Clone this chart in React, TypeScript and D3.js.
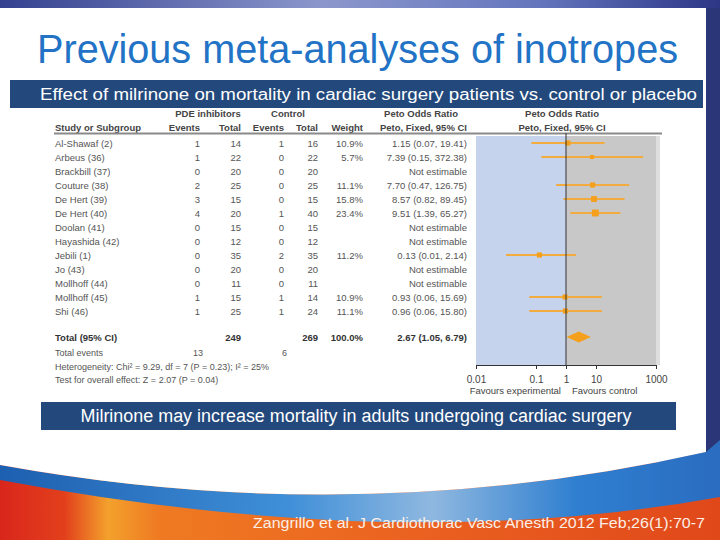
import { useRef, useEffect } from "react";
import * as d3 from "d3";

const studies = [
  "Al-Shawaf (2)",
  "Arbeus (36)",
  "Brackbill (37)",
  "Couture (38)",
  "De Hert (39)",
  "De Hert (40)",
  "Doolan (41)",
  "Hayashida (42)",
  "Jebili (1)",
  "Jo (43)",
  "Mollhoff (44)",
  "Mollhoff (45)",
  "Shi (46)",
];
const pdeEvents = [1, 1, 0, 2, 3, 4, 0, 0, 0, 0, 0, 1, 1];
const pdeTotal = [14, 22, 20, 25, 15, 20, 15, 12, 35, 20, 11, 15, 25];
const ctlEvents = [1, 0, 0, 0, 0, 1, 0, 0, 2, 0, 0, 1, 1];
const ctlTotal = [16, 22, 20, 25, 15, 40, 15, 12, 35, 20, 11, 14, 24];
const weights = [10.9, 5.7, null, 11.1, 15.8, 23.4, null, null, 11.2, null, null, 10.9, 11.1];
const oddsRatio = [1.15, 7.39, null, 7.7, 8.57, 9.51, null, null, 0.13, null, null, 0.93, 0.96];
const ciLow = [0.07, 0.15, null, 0.47, 0.82, 1.39, null, null, 0.01, null, null, 0.06, 0.06];
const ciHigh = [19.41, 372.38, null, 126.75, 89.45, 65.27, null, null, 2.14, null, null, 15.69, 15.8];

// pooled estimate: OR, low, high
const pooled = [2.67, 1.05, 6.79];
const totals = { pde: 249, ctl: 269, weight: "100.0%" };
const totalEvents = [13, 6];

const tickValues = [0.001, 0.1, 1, 10, 1000];
const tickLabels = ["0.01", "0.1", "1", "10", "1000"];

const NARROW = '"Liberation Sans Narrow", "Arial Narrow", "Liberation Sans", Arial, sans-serif';
const SANS = '"Liberation Sans", Arial, sans-serif';

const fmt = (v: number) => v.toFixed(2);

export default function App() {
  const axisRef = useRef<SVGGElement>(null);

  const x = d3.scaleLog().domain([0.001, 1000]).range([476, 656]);
  const y = d3.scaleLinear().domain([0, 12]).range([143, 311]);
  const box = d3.scaleSqrt().domain([0, 25]).range([1.5, 7]);

  const totalY = 337;
  const axisY = 365;

  useEffect(() => {
    const g = d3.select(axisRef.current);
    g.selectAll("*").remove();
    g.call(
      d3
        .axisBottom(x)
        .tickValues(tickValues)
        .tickFormat((_, i) => tickLabels[i])
        .tickSize(4)
        .tickSizeOuter(0)
    );
    g.select(".domain").attr("stroke", "#333");
    g.selectAll(".tick line").attr("stroke", "#333");
    g.selectAll(".tick text")
      .attr("fill", "#444")
      .attr("font-size", 10)
      .attr("font-family", SANS)
      .attr("dy", "1.1em");
  }, []);

  const cols = { ev1: 200, tot1: 241, ev2: 284, tot2: 318, w: 363, ci: 467 };
  const body = "#555";

  const diamond = d3.line()([
    [x(pooled[1]), totalY],
    [x(pooled[0]), totalY - 5.5],
    [x(pooled[2]), totalY],
    [x(pooled[0]), totalY + 5.5],
  ]) + "Z";

  return (
    <svg
      width={720}
      height={540}
      style={{ position: "absolute", left: 0, top: 0 }}
    >
      <defs>
        <linearGradient id="topband" x1="0" x2="1" y1="0" y2="0">
          <stop offset="0" stopColor="#34418f" />
          <stop offset="0.45" stopColor="#8b97cc" />
          <stop offset="0.75" stopColor="#6475bd" />
          <stop offset="1" stopColor="#2c3685" />
        </linearGradient>
        <linearGradient id="orange" x1="0" x2="1" y1="0" y2="0">
          <stop offset="0" stopColor="#d9261c" />
          <stop offset="0.09" stopColor="#e2401c" />
          <stop offset="0.15" stopColor="#f3a12c" />
          <stop offset="0.22" stopColor="#ef7a22" />
          <stop offset="0.6" stopColor="#ea6020" />
          <stop offset="1" stopColor="#e0481a" />
        </linearGradient>
        <linearGradient id="wave" x1="0" x2="1" y1="0" y2="0">
          <stop offset="0" stopColor="#1d5fb0" />
          <stop offset="0.4" stopColor="#3f8fd8" />
          <stop offset="0.6" stopColor="#8fb8e0" />
          <stop offset="0.8" stopColor="#2f7fd0" />
          <stop offset="1" stopColor="#2a6cc0" />
        </linearGradient>
      </defs>

      {/* slide background */}
      <rect x={0} y={0} width={720} height={540} fill="#2b3678" />
      <rect x={0} y={0} width={720} height={8} fill="url(#topband)" />
      <rect x={0} y={462} width={720} height={78} fill="url(#orange)" />
      <path d="M0,465 Q360,530 706,452 L720,440 L720,497 Q400,555 0,480 Z" fill="url(#wave)" />
      <path d="M0,8 H706 V452 Q360,530 0,465 Z" fill="#ffffff" />

      {/* title */}
      <text
        x={37}
        y={63}
        fontFamily={NARROW}
        fontSize={40}
        fill="#2273c6"
        textLength={641}
        lengthAdjust="spacingAndGlyphs"
      >
        Previous meta-analyses of inotropes
      </text>

      {/* top banner */}
      <rect x={10} y={80} width={693} height={28} fill="#23497c" />
      <text
        x={40}
        y={100}
        fontFamily={SANS}
        fontSize={16}
        fill="#ffffff"
        textLength={657}
        lengthAdjust="spacingAndGlyphs"
      >
        Effect of milrinone on mortality in cardiac surgery patients vs. control or placebo
      </text>

      {/* plot panel */}
      <rect x={x(0.001)} y={136} width={x(1) - x(0.001)} height={axisY - 136} fill="#c6d3ec" />
      <rect x={x(1)} y={136} width={x(1000) - x(1)} height={axisY - 136} fill="#c8c8c8" />
      <rect x={x(1000)} y={136} width={4} height={axisY - 136} fill="#dedede" />

      {/* table header */}
      <g fontFamily={SANS} fontSize={9.5} fontWeight="bold" fill="#444">
        <text x={208} y={117} textAnchor="middle">PDE inhibitors</text>
        <text x={288} y={117} textAnchor="middle">Control</text>
        <text x={421} y={117} textAnchor="middle">Peto Odds Ratio</text>
        <text x={562} y={117} textAnchor="middle">Peto Odds Ratio</text>
        <text x={55} y={131}>Study or Subgroup</text>
        <text x={cols.ev1} y={131} textAnchor="end">Events</text>
        <text x={cols.tot1} y={131} textAnchor="end">Total</text>
        <text x={cols.ev2} y={131} textAnchor="end">Events</text>
        <text x={cols.tot2} y={131} textAnchor="end">Total</text>
        <text x={cols.w} y={131} textAnchor="end">Weight</text>
        <text x={cols.ci} y={131} textAnchor="end">Peto, Fixed, 95% CI</text>
        <text x={562} y={131} textAnchor="middle">Peto, Fixed, 95% CI</text>
      </g>
      <line x1={54} x2={662} y1={133.5} y2={133.5} stroke="#8a8a8a" strokeWidth={2} />

      {/* study rows */}
      <g fontFamily={SANS} fontSize={9.5} fill={body}>
        {studies.map((s, i) => {
          const w = weights[i];
          const or = oddsRatio[i];
          const lo = ciLow[i];
          const hi = ciHigh[i];
          const yy = y(i) + 3.5;
          return (
            <g key={i}>
              <text x={55} y={yy}>{s}</text>
              <text x={cols.ev1} y={yy} textAnchor="end">{pdeEvents[i]}</text>
              <text x={cols.tot1} y={yy} textAnchor="end">{pdeTotal[i]}</text>
              <text x={cols.ev2} y={yy} textAnchor="end">{ctlEvents[i]}</text>
              <text x={cols.tot2} y={yy} textAnchor="end">{ctlTotal[i]}</text>
              {w != null && (
                <text x={cols.w} y={yy} textAnchor="end">{w.toFixed(1)}%</text>
              )}
              <text x={cols.ci} y={yy} textAnchor="end">
                {or != null && lo != null && hi != null
                  ? `${fmt(or)} (${fmt(lo)}, ${fmt(hi)})`
                  : "Not estimable"}
              </text>
            </g>
          );
        })}
      </g>

      {/* total rows */}
      <g fontFamily={SANS} fontSize={9.5} fontWeight="bold" fill="#333">
        <text x={55} y={totalY + 3.5}>Total (95% CI)</text>
        <text x={cols.tot1} y={totalY + 3.5} textAnchor="end">{totals.pde}</text>
        <text x={cols.tot2} y={totalY + 3.5} textAnchor="end">{totals.ctl}</text>
        <text x={cols.w} y={totalY + 3.5} textAnchor="end">{totals.weight}</text>
        <text x={cols.ci} y={totalY + 3.5} textAnchor="end">
          {`${fmt(pooled[0])} (${fmt(pooled[1])}, ${fmt(pooled[2])})`}
        </text>
      </g>
      <g fontFamily={SANS} fontSize={9} fill={body}>
        <text x={55} y={356}>Total events</text>
        <text x={203} y={356} textAnchor="end">{totalEvents[0]}</text>
        <text x={287} y={356} textAnchor="end">{totalEvents[1]}</text>
        <text x={55} y={370}>Heterogeneity: Chi² = 9.29, df = 7 (P = 0.23); I² = 25%</text>
        <text x={55} y={383}>Test for overall effect: Z = 2.07 (P = 0.04)</text>
      </g>

      {/* forest marks */}
      {studies.map((_, i) => {
        const w = weights[i];
        const or = oddsRatio[i];
        const lo = ciLow[i];
        const hi = ciHigh[i];
        if (or == null || lo == null || hi == null || w == null) return null;
        const s = box(w);
        return (
          <g key={i}>
            <line x1={x(lo)} x2={x(hi)} y1={y(i)} y2={y(i)} stroke="#f2ab3e" strokeWidth={2} />
            <rect x={x(or) - s / 2} y={y(i) - s / 2} width={s} height={s} fill="#f5a01c" />
          </g>
        );
      })}
      <path d={diamond} fill="#f5a01c" />
      <line x1={x(1)} x2={x(1)} y1={133} y2={axisY} stroke="#333" strokeWidth={1} />

      <g ref={axisRef} transform={`translate(0,${axisY})`} />
      <g fontFamily={SANS} fontSize={9.5} fill="#444">
        <text x={561} y={394} textAnchor="end">Favours experimental</text>
        <text x={572} y={394}>Favours control</text>
      </g>

      {/* bottom banner */}
      <rect x={41} y={402} width={635} height={28} fill="#23497c" />
      <text
        x={356}
        y={422}
        textAnchor="middle"
        fontFamily={NARROW}
        fontSize={18}
        fill="#ffffff"
        textLength={551}
        lengthAdjust="spacingAndGlyphs"
      >
        Milrinone may increase mortality in adults undergoing cardiac surgery
      </text>

      {/* citation */}
      <text
        x={253}
        y={528}
        fontFamily={NARROW}
        fontSize={15.5}
        fill="#fbeee6"
        textLength={452}
        lengthAdjust="spacingAndGlyphs"
      >
        Zangrillo et al. J Cardiothorac Vasc Anesth 2012 Feb;26(1):70-7
      </text>
    </svg>
  );
}
